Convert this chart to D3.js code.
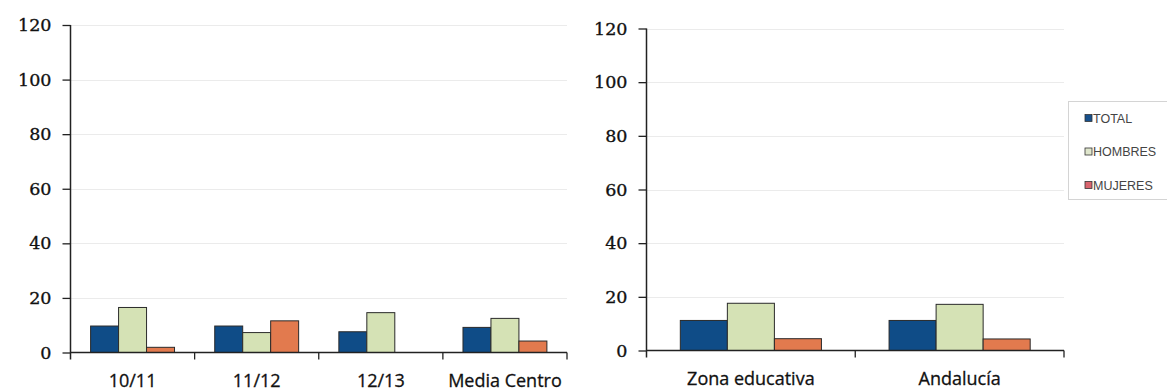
<!DOCTYPE html>
<html>
<head>
<meta charset="utf-8">
<script src="https://cdn.jsdelivr.net/npm/d3@7"></script>
<style>
  body { margin: 0; background: #fff; }
  .grid line { stroke: #ebebeb; stroke-width: 1; }
  .yaxis text { font-family: "DejaVu Serif", serif; font-size: 17.5px; fill: #111; stroke: #111; stroke-width: 0.35; }
  .xlab { font-family: "Open Sans", Lato, sans-serif; font-size: 18px; fill: #111; stroke: #111; stroke-width: 0.3; }
  .legend text { font-family: "Liberation Sans", Arial, sans-serif; font-size: 12.5px; fill: #444; }
</style>
</head>
<body>
<div id="chart"></div>
<script>
// data
var series = ["TOTAL", "HOMBRES", "MUJERES"];
var colors = ["#0f4c87", "#d5e2b5", "#e27a4e"];
var legendColors = ["#17508c", "#dfe6cc", "#d9646e"];
var yTicks = [0, 20, 40, 60, 80, 100, 120];

var leftCats = ["10/11", "11/12", "12/13", "Media Centro"];
var leftTotal = [9.7, 9.7, 7.6, 9.2];
var leftHombres = [16.5, 7.3, 14.6, 12.5];
var leftMujeres = [1.9, 11.6, 0, 4.2];

var rightCats = ["Zona educativa", "Andalucía"];
var rightTotal = [11.2, 11.2];
var rightHombres = [17.6, 17.2];
var rightMujeres = [4.4, 4.3];

var W = 1167, H = 390;
var svg = d3.select("#chart").append("svg")
    .attr("width", W).attr("height", H);

function drawPanel(cats, vals, box) {
    var g = svg.append("g")
        .attr("transform", "translate(" + box.x0 + ",0)");
    var width = box.x1 - box.x0;

    var y = d3.scaleLinear().domain([0, 120]).range([box.y0, box.y120]);
    var x = d3.scaleBand().domain(cats).range([0, width]).padding(0);
    var x1 = d3.scaleBand().domain(series)
        .range([x.bandwidth() * 0.162, x.bandwidth() * 0.838]);

    // grid lines
    g.append("g").attr("class", "grid")
        .selectAll("line").data(yTicks.slice(1)).enter().append("line")
        .attr("x1", 0).attr("x2", width)
        .attr("y1", function(d) { return Math.round(y(d)) + 0.5; })
        .attr("y2", function(d) { return Math.round(y(d)) + 0.5; });

    // bars
    var rows = cats.map(function(c, i) {
        return series.map(function(s, j) { return { cat: c, s: s, j: j, v: vals[j][i] }; });
    });
    g.selectAll(".grp").data(rows).enter().append("g")
        .attr("transform", function(d) { return "translate(" + x(d[0].cat) + ",0)"; })
        .selectAll("rect").data(function(d) { return d.filter(function(e) { return e.v > 0; }); })
        .enter().append("rect")
        .attr("x", function(d) { return x1(d.s); })
        .attr("width", x1.bandwidth())
        .attr("y", function(d) { return y(d.v); })
        .attr("height", function(d) { return y(0) - y(d.v); })
        .style("fill", function(d) { return colors[d.j]; })
        .style("stroke", "#2a2a2a")
        .style("stroke-width", 1);

    // y axis
    var yAxis = g.append("g").attr("class", "yaxis")
        .call(d3.axisLeft(y).tickValues(yTicks).tickSize(8).tickSizeOuter(0).tickPadding(11));
    yAxis.select(".domain").remove();
    yAxis.selectAll(".tick line").style("stroke", "#222").style("stroke-width", 1.3);
    g.append("line")
        .attr("x1", 0).attr("x2", 0)
        .attr("y1", y(120)).attr("y2", y(0) + 7)
        .style("stroke", "#222").style("stroke-width", 1.5);

    // x axis line and category ticks
    g.append("line")
        .attr("x1", 0).attr("x2", width)
        .attr("y1", y(0)).attr("y2", y(0))
        .style("stroke", "#222").style("stroke-width", 1.5);
    var bounds = cats.map(function(c) { return x(c); }).slice(1).concat([width]);
    g.selectAll(".xtick").data(bounds).enter().append("line")
        .attr("x1", function(d) { return d; }).attr("x2", function(d) { return d; })
        .attr("y1", y(0)).attr("y2", y(0) + 7)
        .style("stroke", "#222").style("stroke-width", 1.3);
    g.selectAll(".xlab").data(cats).enter().append("text")
        .attr("class", "xlab")
        .attr("x", function(d) { return x(d) + x.bandwidth() / 2; })
        .attr("y", y(0) + 34)
        .attr("text-anchor", "middle")
        .text(function(d) { return d; });
}

drawPanel(leftCats, [leftTotal, leftHombres, leftMujeres],
    { x0: 70.5, x1: 567, y0: 352.5, y120: 25 });
drawPanel(rightCats, [rightTotal, rightHombres, rightMujeres],
    { x0: 646.5, x1: 1064, y0: 350.5, y120: 28.5 });

// legend
var lg = svg.append("g").attr("class", "legend");
lg.append("rect")
    .attr("x", 1068.5).attr("y", 101.5)
    .attr("width", 110).attr("height", 98)
    .style("fill", "#fff").style("stroke", "#d4d4d4");
var items = lg.selectAll(".item").data(series).enter().append("g")
    .attr("transform", function(d, i) { return "translate(1085," + (118 + i * 33.5) + ")"; });
items.append("rect")
    .attr("x", 0).attr("y", -3.5).attr("width", 7).attr("height", 7)
    .style("fill", function(d, i) { return legendColors[i]; })
    .style("stroke", "#333").style("stroke-width", 0.8);
items.append("text")
    .attr("x", 8).attr("dy", "0.36em")
    .text(function(d) { return d; });
</script>
</body>
</html>
